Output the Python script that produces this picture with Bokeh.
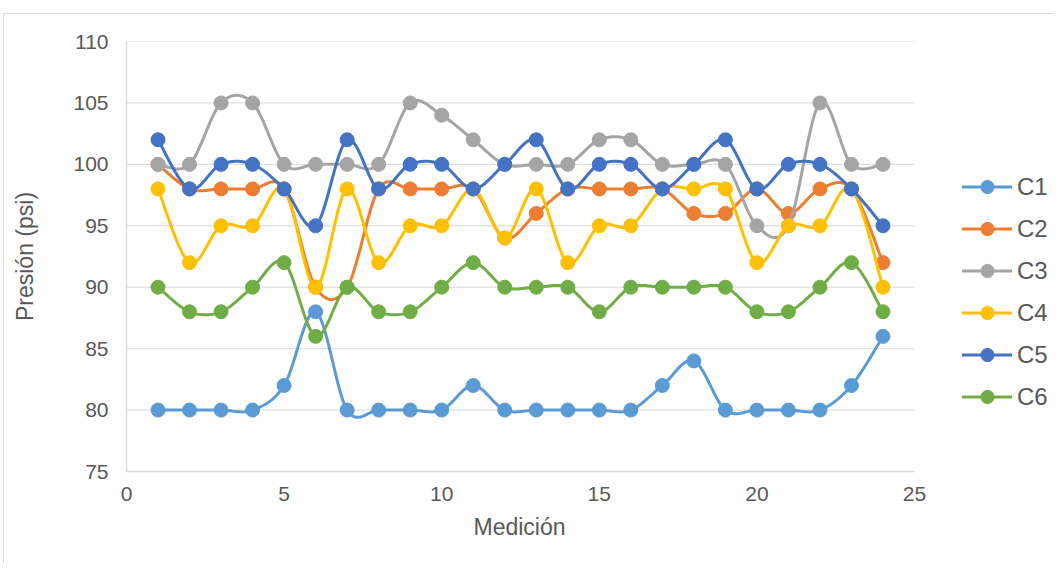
import numpy as np
from bokeh.plotting import figure
from bokeh.models import Range1d, FixedTicker, Legend, LegendItem, ColumnDataSource, Title
from bokeh.embed import file_html
from bokeh.resources import INLINE

# ---- data ----
medicion = list(range(1, 25))
c1 = [80, 80, 80, 80, 82, 88, 80, 80, 80, 80, 82, 80, 80, 80, 80, 80, 82, 84, 80, 80, 80, 80, 82, 86]
c2 = [100, 98, 98, 98, 98, 90, 90, 98, 98, 98, 98, 94, 96, 98, 98, 98, 98, 96, 96, 98, 96, 98, 98, 92]
c3 = [100, 100, 105, 105, 100, 100, 100, 100, 105, 104, 102, 100, 100, 100, 102, 102, 100, 100, 100, 95, 95, 105, 100, 100]
c4 = [98, 92, 95, 95, 98, 90, 98, 92, 95, 95, 98, 94, 98, 92, 95, 95, 98, 98, 98, 92, 95, 95, 98, 90]
c5 = [102, 98, 100, 100, 98, 95, 102, 98, 100, 100, 98, 100, 102, 98, 100, 100, 98, 100, 102, 98, 100, 100, 98, 95]
c6 = [90, 88, 88, 90, 92, 86, 90, 88, 88, 90, 92, 90, 90, 90, 88, 90, 90, 90, 90, 88, 88, 90, 92, 88]

series_names = ["C1", "C2", "C3", "C4", "C5", "C6"]
series_values = [c1, c2, c3, c4, c5, c6]
colors = ["#5B9BD5", "#ED7D31", "#A5A5A5", "#FFC000", "#4472C4", "#70AD47"]

x_ticks = [0, 5, 10, 15, 20, 25]
y_ticks = [75, 80, 85, 90, 95, 100, 105, 110]

FONT = "Liberation Sans"
TXT = "#595959"
GRID = "#D9D9D9"

# layout (pixels)
W, H = 1050, 550
LEFT, TOP, BOTTOM = 122, 27, 93
AXIS_PX = 788                      # pixel length of the 0..25 axis
FRAME_PX = W - LEFT                # frame runs to the right edge so the legend fits inside it
x_end = x_ticks[-1] * FRAME_PX / AXIS_PX


def smooth(xs, ys, n=24):
    """Excel-like smoothed line: cubic Bezier segments with Catmull-Rom control points."""
    xs = np.asarray(xs, float)
    ys = np.asarray(ys, float)
    m = len(xs)
    t = np.linspace(0, 1, n)
    ox, oy = [], []
    for i in range(m - 1):
        i0 = max(i - 1, 0)
        i3 = min(i + 2, m - 1)
        p0x, p0y = xs[i], ys[i]
        p3x, p3y = xs[i + 1], ys[i + 1]
        p1x = p0x + (xs[i + 1] - xs[i0]) / 6.0
        p1y = p0y + (ys[i + 1] - ys[i0]) / 6.0
        p2x = p3x - (xs[i3] - xs[i]) / 6.0
        p2y = p3y - (ys[i3] - ys[i]) / 6.0
        tt = t if i == 0 else t[1:]
        a = (1 - tt) ** 3
        b = 3 * (1 - tt) ** 2 * tt
        c = 3 * (1 - tt) * tt ** 2
        d = tt ** 3
        ox.extend(a * p0x + b * p1x + c * p2x + d * p3x)
        oy.extend(a * p0y + b * p1y + c * p2y + d * p3y)
    return ox, oy


p = figure(
    width=W, height=H,
    x_range=Range1d(x_ticks[0], x_end), y_range=Range1d(y_ticks[0], y_ticks[-1]),
    output_backend="svg", toolbar_location=None,
    min_border_left=LEFT, min_border_right=0, min_border_top=TOP, min_border_bottom=BOTTOM,
)
p.styles = {
    "position": "relative", "left": "3px", "top": "13px",
    "border-left": "1px solid #D9D9D9", "border-top": "1px solid #D9D9D9",
}
p.outline_line_color = None
p.background_fill_color = "white"
p.border_fill_color = "white"

# horizontal gridlines only across the 0..25 span
p.xgrid.visible = False
p.ygrid.visible = False
p.segment(x0=[x_ticks[0]] * len(y_ticks), x1=[x_ticks[-1]] * len(y_ticks),
          y0=y_ticks, y1=y_ticks, line_color=GRID, line_width=1)

p.xaxis.ticker = FixedTicker(ticks=x_ticks)
p.yaxis.ticker = FixedTicker(ticks=y_ticks)
p.xaxis.bounds = (x_ticks[0], x_ticks[-1])
for ax in (p.xaxis, p.yaxis):
    ax.axis_line_color = GRID
    ax.axis_line_width = 1.3
    ax.major_tick_line_color = None
    ax.minor_tick_line_color = None
    ax.major_tick_out = 0
    ax.major_tick_in = 0
    ax.major_label_text_font = FONT
    ax.major_label_text_font_size = "21px"
    ax.major_label_text_color = TXT
    ax.axis_label_text_font = FONT
    ax.axis_label_text_font_size = "23px"
    ax.axis_label_text_font_style = "normal"
    ax.axis_label_text_color = TXT

p.yaxis.axis_label = "Presión (psi)"
p.xaxis.major_label_standoff = 15
p.yaxis.major_label_standoff = 18
p.yaxis.axis_label_standoff = 32

# x-axis title, centred under the 0..25 axis span
x_title = Title(
    text="Medición", align="left", offset=347, standoff=16,
    text_font=FONT, text_font_size="23px", text_font_style="normal", text_color=TXT,
)
p.add_layout(x_title, "below")

items = []
for name, vals, col in zip(series_names, series_values, colors):
    sx, sy = smooth(medicion, vals)
    line_src = ColumnDataSource(dict(x=sx, y=sy))
    pt_src = ColumnDataSource(dict(x=medicion, y=vals))
    lr = p.line("x", "y", source=line_src, line_color=col, line_width=3, line_join="round", line_cap="round")
    sr = p.scatter("x", "y", source=pt_src, size=14, fill_color=col, line_color=col, line_width=1)
    items.append(LegendItem(label=name, renderers=[lr, sr]))

legend = Legend(
    items=items, location=(836, 58), orientation="vertical",
    glyph_width=50, glyph_height=33, label_height=33, spacing=9,
    padding=0, margin=0, label_standoff=5,
    border_line_color=None, background_fill_alpha=0,
    label_text_font=FONT, label_text_font_size="24px", label_text_color=TXT,
    label_text_baseline="middle",
)
p.add_layout(legend)

open("out.html", "w").write(file_html(p, INLINE))
